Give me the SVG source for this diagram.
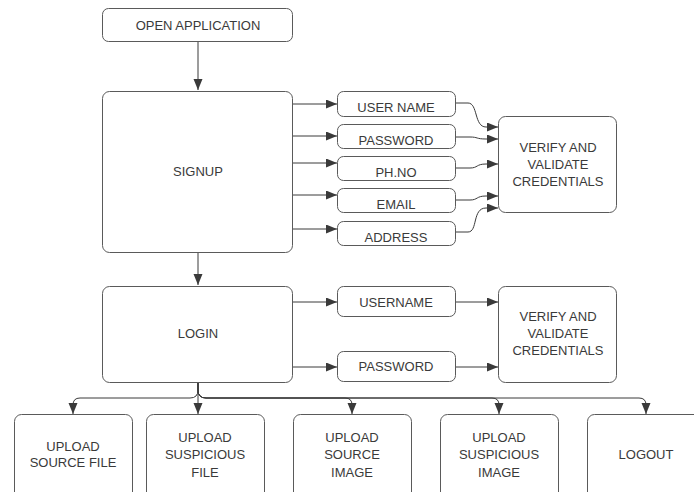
<svg xmlns="http://www.w3.org/2000/svg" width="694" height="492" viewBox="0 0 694 492">
<defs>
<marker id="ah" markerUnits="userSpaceOnUse" markerWidth="12" markerHeight="10" refX="11" refY="4.5" orient="auto">
<path d="M0,0 L11,4.5 L0,9 z" fill="#3a3a3a"/>
</marker>
<style>
.box{fill:#fff;stroke:#5a5a5a;stroke-width:1}
.t{font-family:"Liberation Sans",Arial,sans-serif;font-size:13px;fill:#3a3a3a;text-anchor:middle}
.c{fill:none;stroke:#3a3a3a;stroke-width:1;marker-end:url(#ah)}
</style>
</defs>
<rect width="694" height="492" fill="#fff"/>
<g id="connectors">
<path class="c" d="M198 42 V90"/>
<path class="c" d="M292 104 H337"/>
<path class="c" d="M292 136 H337"/>
<path class="c" d="M292 163 H337"/>
<path class="c" d="M292 195 H337"/>
<path class="c" d="M292 229 H337"/>
<path class="c" d="M455 103 H468 C478 103 474 127 486 127 H498"/>
<path class="c" d="M455 137 H470 C478 137 476 139 486 139 H498"/>
<path class="c" d="M455 168 H470 C478 168 476 164 486 164 H498"/>
<path class="c" d="M455 200 H470 C478 200 476 196 486 196 H498"/>
<path class="c" d="M455 232 H468 C478 232 472 208 486 208 H498"/>
<path class="c" d="M198 252 V285"/>
<path class="c" d="M293 302 H337"/>
<path class="c" d="M293 367 H337"/>
<path class="c" d="M455 302 H498"/>
<path class="c" d="M455 367 H498"/>
<path class="c" d="M198 383 V390 Q198 398 190 398 H80 Q73 398 73 405 V414"/>
<path class="c" d="M198 383 V414"/>
<path class="c" d="M198 383 V390 Q198 398 206 398 H345 Q352 398 352 405 V414"/>
<path class="c" d="M198 383 V390 Q198 398 206 398 H492 Q499 398 499 405 V414"/>
<path class="c" d="M198 383 V390 Q198 398 206 398 H639 Q646 398 646 405 V414"/>
</g>
<g id="open"><rect class="box" x="102.5" y="8.5" width="190" height="33" rx="6"/><text class="t" x="198" y="30">OPEN APPLICATION</text></g>
<g id="signup"><rect class="box" x="102.5" y="91.5" width="190" height="161" rx="7"/><text class="t" x="198" y="176">SIGNUP</text></g>
<g id="username1"><rect class="box" x="337.5" y="91.5" width="118" height="25" rx="6"/><text class="t" x="396" y="112">USER NAME</text></g>
<g id="password1"><rect class="box" x="337.5" y="124.5" width="118" height="24" rx="6"/><text class="t" x="396" y="145">PASSWORD</text></g>
<g id="phno"><rect class="box" x="337.5" y="156.5" width="118" height="24" rx="6"/><text class="t" x="396" y="177">PH.NO</text></g>
<g id="email"><rect class="box" x="337.5" y="188.5" width="118" height="24" rx="6"/><text class="t" x="396" y="209">EMAIL</text></g>
<g id="address"><rect class="box" x="337.5" y="221.5" width="118" height="24" rx="6"/><text class="t" x="396" y="242">ADDRESS</text></g>
<g id="verify1"><rect class="box" x="498.5" y="116.5" width="118" height="96" rx="7"/><text class="t" x="558" y="152">VERIFY AND</text><text class="t" x="558" y="169">VALIDATE</text><text class="t" x="558" y="186">CREDENTIALS</text></g>
<g id="login"><rect class="box" x="102.5" y="286.5" width="190" height="96" rx="7"/><text class="t" x="198" y="338">LOGIN</text></g>
<g id="username2"><rect class="box" x="337.5" y="286.5" width="118" height="30" rx="6"/><text class="t" x="396" y="307">USERNAME</text></g>
<g id="password2"><rect class="box" x="337.5" y="351.5" width="118" height="30" rx="6"/><text class="t" x="396" y="371">PASSWORD</text></g>
<g id="verify2"><rect class="box" x="498.5" y="286.5" width="118" height="96" rx="7"/><text class="t" x="558" y="321">VERIFY AND</text><text class="t" x="558" y="338">VALIDATE</text><text class="t" x="558" y="355">CREDENTIALS</text></g>
<g id="upsrcfile"><rect class="box" x="14.5" y="414.5" width="118" height="100" rx="7"/><text class="t" x="73" y="451">UPLOAD</text><text class="t" x="73" y="467">SOURCE FILE</text></g>
<g id="upsusfile"><rect class="box" x="146.5" y="414.5" width="118" height="100" rx="7"/><text class="t" x="205" y="442">UPLOAD</text><text class="t" x="205" y="459">SUSPICIOUS</text><text class="t" x="205" y="477">FILE</text></g>
<g id="upsrcimg"><rect class="box" x="293.5" y="414.5" width="118" height="100" rx="7"/><text class="t" x="352" y="442">UPLOAD</text><text class="t" x="352" y="459">SOURCE</text><text class="t" x="352" y="477">IMAGE</text></g>
<g id="upsusimg"><rect class="box" x="440.5" y="414.5" width="118" height="100" rx="7"/><text class="t" x="499" y="442">UPLOAD</text><text class="t" x="499" y="459">SUSPICIOUS</text><text class="t" x="499" y="477">IMAGE</text></g>
<g id="logout"><rect class="box" x="587.5" y="414.5" width="118" height="100" rx="7"/><text class="t" x="646" y="459">LOGOUT</text></g>
</svg>
